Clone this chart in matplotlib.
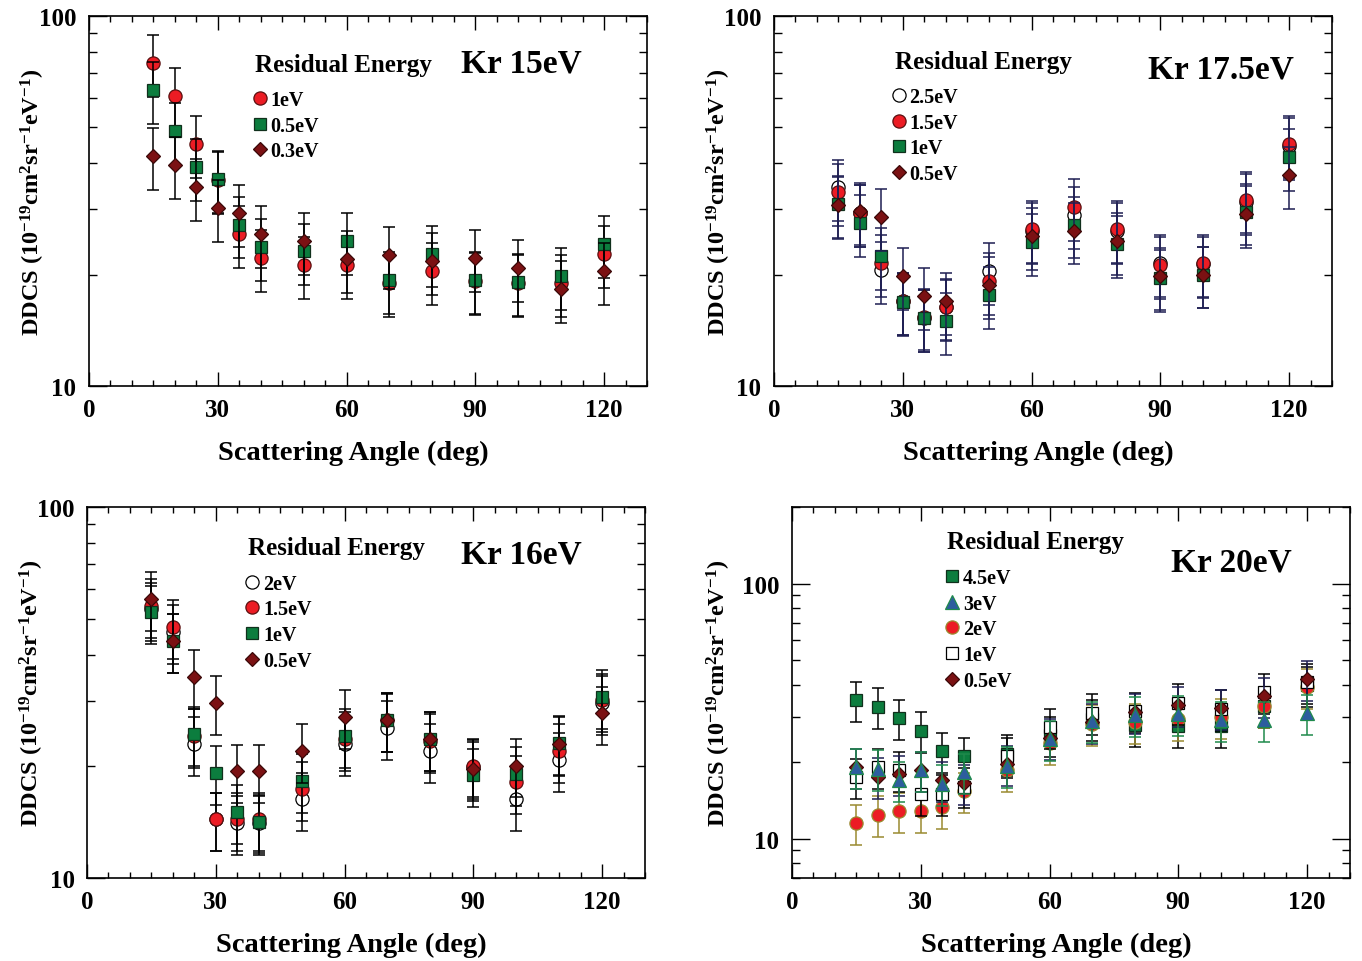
import matplotlib
matplotlib.use("Agg")
import matplotlib.pyplot as plt
from matplotlib.lines import Line2D
from matplotlib.ticker import FixedLocator, NullFormatter, FixedFormatter
import numpy as np

plt.rcParams['font.family'] = ['Liberation Serif', 'DejaVu Serif']
plt.rcParams['font.weight'] = 'bold'
plt.rcParams['axes.labelweight'] = 'bold'
plt.rcParams['mathtext.fontset'] = 'custom'
plt.rcParams['mathtext.rm'] = 'Liberation Serif:bold'
plt.rcParams['mathtext.it'] = 'Liberation Serif:bold'
plt.rcParams['mathtext.bf'] = 'Liberation Serif:bold'
plt.rcParams['mathtext.default'] = 'bf'

# Scattering angles (deg)
angles = [15, 20, 25, 30, 35, 40, 50, 60, 70, 80, 90, 100, 110, 120]

# Kr, incident 15 eV
kr15_1eV = [74.8, 60.7, 45.0, 36.0, 25.8, 22.2, 21.2, 21.2, 19.0, 20.5, 19.2, 19.0, 19.0, 22.7]
kr15_05eV = [63.0, 48.9, 39.1, 36.2, 27.3, 23.7, 23.1, 24.7, 19.3, 22.8, 19.3, 19.1, 19.8, 24.2]
kr15_03eV = [41.8, 39.5, 34.5, 30.3, 29.4, 25.8, 24.6, 22.0, 22.6, 21.8, 22.2, 20.8, 18.3, 20.5]

# Kr, incident 17.5 eV
kr175_25eV = [34.4, 29.4, 20.6, 17.0, 15.3, 16.4, 20.4, 26.3, 29.0, 26.3, 21.5, 21.3, 31.5, 44.5]
kr175_15eV = [33.5, 29.4, 21.5, 17.0, 15.4, 16.3, 19.2, 26.5, 30.4, 26.6, 21.2, 21.5, 31.9, 45.1]
kr175_1eV = [31.0, 27.6, 22.5, 16.9, 15.3, 15.0, 17.6, 24.5, 27.3, 24.2, 19.6, 20.0, 29.6, 41.5]
kr175_05eV = [30.8, 29.7, 28.6, 19.8, 17.5, 17.0, 18.7, 25.4, 26.3, 24.7, 19.8, 20.0, 29.2, 37.2]

# Kr, incident 16 eV
kr16_2eV = [53.0, 46.0, 23.0, 14.4, 14.1, 14.1, 16.3, 23.0, 25.4, 22.0, 19.9, 16.3, 20.8, 29.6]
kr16_15eV = [54.2, 47.5, 24.2, 14.4, 14.4, 14.4, 17.4, 23.7, 26.6, 23.4, 20.1, 18.1, 22.0, 30.1]
kr16_1eV = [52.0, 43.6, 24.5, 19.2, 15.1, 14.2, 18.3, 24.2, 26.7, 23.7, 18.9, 19.1, 23.1, 30.8]
kr16_05eV = [56.5, 43.6, 34.8, 29.7, 19.4, 19.4, 22.0, 27.2, 26.7, 23.7, 19.7, 20.1, 23.0, 27.8]

# Kr, incident 20 eV
kr20_45eV = [35.0, 32.9, 29.7, 26.5, 22.0, 21.1, 21.5, 25.5, 29.5, 28.0, 27.7, 27.7, 33.0, 40.0]
kr20_3eV = [19.0, 18.8, 16.9, 18.5, 16.4, 18.2, 19.3, 24.6, 29.0, 30.4, 30.8, 29.2, 29.2, 31.0]
kr20_2eV = [11.5, 12.4, 12.8, 12.8, 13.3, 15.3, 18.5, 23.7, 28.2, 28.6, 29.5, 29.9, 33.2, 39.3]
kr20_1eV = [17.4, 19.0, 18.5, 14.9, 15.0, 16.0, 21.1, 27.3, 31.2, 31.7, 34.1, 32.3, 37.5, 41.0]
kr20_05eV = [19.0, 17.5, 17.9, 18.5, 16.9, 16.5, 19.6, 24.9, 28.6, 31.3, 33.3, 32.5, 36.1, 42.3]

# relative uncertainty of each data set
rel_err_15 = 0.19
rel_err_175 = 0.19
rel_err_16 = 0.18
rel_err_20 = 0.18

x_ticks = [0, 30, 60, 90, 120]
x_ticklabels = ['0', '30', '60', '90', '120']

RED = '#ec1c24'
GREEN = '#0c7d3e'
DRED = '#7b1113'
BLUE = '#2d5d9e'
NAVY = '#1e1e52'

MS = 9.5

styles = {
    'circle_red': dict(marker='o', mfc=RED, mec='#5a1010', ms=MS),
    'circle_open': dict(marker='o', mfc='white', mec='black', ms=MS),
    'square_green': dict(marker='s', mfc=GREEN, mec='#10301c', ms=MS - 0.5),
    'square_open': dict(marker='s', mfc='white', mec='black', ms=MS - 0.5),
    'diamond': dict(marker='D', mfc=DRED, mec='#3a0808', ms=MS - 2.5),
    'triangle': dict(marker='^', mfc=BLUE, mec='#1f8a4c', ms=MS + 0.5),
    'circle_red20': dict(marker='o', mfc=RED, mec='#9a8a30', ms=MS),
}

fig = plt.figure(figsize=(13.62, 9.62), dpi=100)
W, H = 1362, 962

YLABEL = r'DDCS (10$^{-19}$cm$^{2}$sr$^{-1}$eV$^{-1}$)'


def make_axes(left, top, right, bottom):
    return fig.add_axes([left / W, 1 - bottom / H, (right - left) / W, (bottom - top) / H])


def style_axes(ax, ylim, ymajor, yminor, ylabels, ylabel_x):
    ax.set_xlim(0, 130)
    ax.set_yscale('log')
    ax.set_ylim(*ylim)
    ax.xaxis.set_major_locator(FixedLocator(x_ticks))
    ax.xaxis.set_major_formatter(FixedFormatter(x_ticklabels))
    ax.xaxis.set_minor_locator(FixedLocator(np.arange(0, 131, 5)))
    ax.yaxis.set_major_locator(FixedLocator(ymajor))
    ax.yaxis.set_major_formatter(FixedFormatter(ylabels))
    ax.yaxis.set_minor_locator(FixedLocator(yminor))
    ax.yaxis.set_minor_formatter(NullFormatter())
    ax.tick_params(which='both', direction='in', top=True, right=True, width=1.0, colors='black')
    ax.tick_params(axis='x', which='major', length=10, labelsize=18, pad=9)
    ax.tick_params(axis='x', which='minor', length=4)
    ax.tick_params(axis='y', which='major', length=13, labelsize=18, pad=9)
    ax.tick_params(axis='y', which='minor', length=5.5)
    for s in ax.spines.values():
        s.set_linewidth(1.2)
    ax.set_xlabel('Scattering Angle (deg)', fontsize=20.5, fontweight='bold')
    ax.xaxis.set_label_coords(0.473, -0.146)
    ax.set_ylabel(YLABEL, fontsize=17.5, fontweight='bold')
    ax.yaxis.set_label_coords(ylabel_x, 0.5)


def draw(ax, values, rel, style, ecolor, z):
    vals = np.asarray(values)
    ax.errorbar(angles, vals, yerr=vals * rel, fmt='none', ecolor=ecolor,
                elinewidth=1.1, capsize=4.5, capthick=1.1, zorder=z)
    ax.plot(angles, vals, ls='none', markeredgewidth=0.9, zorder=z + 0.5, **styles[style])


def add_legend(ax, entries, anchor, fs=14.5):
    handles = [Line2D([], [], ls='none', markeredgewidth=0.9, **styles[s]) for s, _ in entries]
    labels = [lab for _, lab in entries]
    leg = ax.legend(handles, labels, loc='upper left', bbox_to_anchor=anchor, frameon=False,
                    handlelength=0.75, handletextpad=0.15, labelspacing=0.28,
                    borderpad=0, borderaxespad=0, prop={'size': fs, 'weight': 'bold'})
    leg.set_zorder(20)


y_minor_main = [20, 30, 40, 50, 60, 70, 80, 90]

# --- Kr 15 eV ---
ax1 = make_axes(89, 17, 647, 387)
style_axes(ax1, (10, 100), [10, 100], y_minor_main, ['10', '100'], -0.075)
draw(ax1, kr15_1eV, rel_err_15, 'circle_red', 'black', 3)
draw(ax1, kr15_05eV, rel_err_15, 'square_green', 'black', 4)
draw(ax1, kr15_03eV, rel_err_15, 'diamond', 'black', 5)
ax1.text(0.298, 0.87, 'Residual Energy', transform=ax1.transAxes, fontsize=18, va='center', ha='left')
ax1.text(0.667, 0.873, 'Kr 15eV', transform=ax1.transAxes, fontsize=24, va='center', ha='left')
add_legend(ax1, [('circle_red', '1eV'), ('square_green', '0.5eV'), ('diamond', '0.3eV')], (0.293, 0.80))

# --- Kr 17.5 eV ---
ax2 = make_axes(774, 17, 1332, 387)
style_axes(ax2, (10, 100), [10, 100], y_minor_main, ['10', '100'], -0.073)
draw(ax2, kr175_25eV, rel_err_175, 'circle_open', NAVY, 3)
draw(ax2, kr175_15eV, rel_err_175, 'circle_red', NAVY, 4)
draw(ax2, kr175_1eV, rel_err_175, 'square_green', NAVY, 5)
draw(ax2, kr175_05eV, rel_err_175, 'diamond', NAVY, 6)
ax2.text(0.217, 0.878, 'Residual Energy', transform=ax2.transAxes, fontsize=18, va='center', ha='left')
ax2.text(0.670, 0.857, 'Kr 17.5eV', transform=ax2.transAxes, fontsize=24, va='center', ha='left')
add_legend(ax2, [('circle_open', '2.5eV'), ('circle_red', '1.5eV'),
                 ('square_green', '1eV'), ('diamond', '0.5eV')], (0.21, 0.808))

# --- Kr 16 eV ---
ax3 = make_axes(87, 508, 645, 879)
style_axes(ax3, (10, 100), [10, 100], y_minor_main, ['10', '100'], -0.074)
draw(ax3, kr16_2eV, rel_err_16, 'circle_open', 'black', 3)
draw(ax3, kr16_15eV, rel_err_16, 'circle_red', 'black', 4)
draw(ax3, kr16_1eV, rel_err_16, 'square_green', 'black', 5)
draw(ax3, kr16_05eV, rel_err_16, 'diamond', 'black', 6)
ax3.text(0.289, 0.892, 'Residual Energy', transform=ax3.transAxes, fontsize=18, va='center', ha='left')
ax3.text(0.670, 0.873, 'Kr 16eV', transform=ax3.transAxes, fontsize=24, va='center', ha='left')
add_legend(ax3, [('circle_open', '2eV'), ('circle_red', '1.5eV'),
                 ('square_green', '1eV'), ('diamond', '0.5eV')], (0.283, 0.820))

# --- Kr 20 eV ---
ax4 = make_axes(792, 508, 1350, 879)
style_axes(ax4, (7, 200), [10, 100], [7, 8, 9, 20, 30, 40, 50, 60, 70, 80, 90, 200], ['10', '100'], -0.106)
draw(ax4, kr20_45eV, rel_err_20, 'square_green', 'black', 3)
draw(ax4, kr20_2eV, rel_err_20, 'circle_red20', '#9a8a30', 4)
draw(ax4, kr20_1eV, rel_err_20, 'square_open', 'black', 5)
draw(ax4, kr20_05eV, rel_err_20, 'diamond', NAVY, 6)
draw(ax4, kr20_3eV, rel_err_20, 'triangle', '#1f8a4c', 7)
ax4.text(0.278, 0.906, 'Residual Energy', transform=ax4.transAxes, fontsize=18, va='center', ha='left')
ax4.text(0.679, 0.851, 'Kr 20eV', transform=ax4.transAxes, fontsize=24, va='center', ha='left')
add_legend(ax4, [('square_green', '4.5eV'), ('triangle', '3eV'), ('circle_red20', '2eV'),
                 ('square_open', '1eV'), ('diamond', '0.5eV')], (0.274, 0.835))

fig.savefig('out.png', dpi=100)
